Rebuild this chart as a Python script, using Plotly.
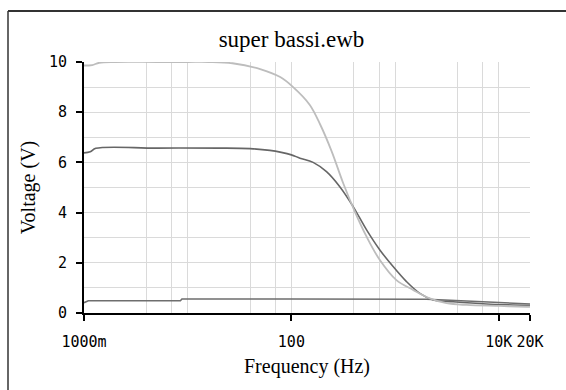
import plotly.graph_objects as go

# Frequency response read from the AC analysis (Hz -> V)
freq_out = [1, 1.2, 1.4, 2, 5, 10, 16, 27, 50, 78, 104, 150, 190, 244, 316, 409,
            531, 713, 1030, 1490, 2160, 3130, 4890, 10200, 18500, 20000]
volt_out = [9.86, 9.88, 9.97, 10.0, 10.0, 10.0, 10.0, 9.95, 9.72, 9.4, 9.0, 8.3, 7.5,
            6.45, 5.17, 4.04, 3.04, 2.11, 1.31, 0.92, 0.58, 0.39, 0.32, 0.28, 0.25, 0.25]

freq_mid = [1, 1.15, 1.3, 5, 20, 40, 62, 80, 100, 121, 162, 218, 293, 394, 531, 713,
            957, 1288, 1733, 2328, 3630, 7600, 13740, 20000]
volt_mid = [6.38, 6.42, 6.56, 6.57, 6.57, 6.55, 6.48, 6.4, 6.3, 6.17, 6.0, 5.63, 5.03,
            4.24, 3.31, 2.51, 1.85, 1.25, 0.78, 0.52, 0.45, 0.36, 0.32, 0.3]

freq_low = [1, 1.1, 8.5, 8.8, 100, 1000, 2000, 3000, 5000, 10000, 20000]
volt_low = [0.41, 0.49, 0.49, 0.56, 0.56, 0.56, 0.55, 0.52, 0.47, 0.41, 0.36]

x_tick_vals = [1, 100, 10000, 20000]
x_tick_text = ["1000m", "100", "10K", "20K"]
x_grid_vals = [4, 7, 10, 40, 70, 400, 700, 1000, 4000, 7000]
y_tick_vals = [0, 2, 4, 6, 8, 10]
y_grid_vals = [1, 3, 5, 7, 9]

fig = go.Figure()
fig.add_trace(go.Scatter(x=freq_low, y=volt_low, mode="lines",
                         line=dict(color="#6e6e6e", width=1.6), showlegend=False))
fig.add_trace(go.Scatter(x=freq_mid, y=volt_mid, mode="lines", line_shape="spline",
                         line=dict(color="#666666", width=1.6), showlegend=False))
fig.add_trace(go.Scatter(x=freq_out, y=volt_out, mode="lines", line_shape="spline",
                         line=dict(color="#bdbdbd", width=1.8), showlegend=False))

grid_color = "#dadada"
fig.update_xaxes(
    type="log", range=[0, 4.30103],
    tickmode="array", tickvals=x_tick_vals, ticktext=x_tick_text,
    ticks="outside", ticklen=6, tickwidth=1.5, tickcolor="black",
    showline=True, linecolor="black", linewidth=2,
    showgrid=True, gridcolor=grid_color, gridwidth=1,
    minor=dict(tickvals=x_grid_vals, showgrid=True, gridcolor=grid_color, ticklen=0),
    tickfont=dict(family="DejaVu Sans Mono", size=15, color="black"),
    ticklabelstandoff=8,
    title=dict(text="Frequency (Hz)", font=dict(family="Liberation Serif", size=20, color="black"),
               standoff=9),
    zeroline=False,
)
fig.update_yaxes(
    range=[0, 10],
    tickmode="array", tickvals=y_tick_vals,
    ticks="outside", ticklen=6, tickwidth=1.5, tickcolor="black",
    showline=True, linecolor="black", linewidth=2,
    showgrid=True, gridcolor=grid_color, gridwidth=1,
    minor=dict(tickvals=y_grid_vals, showgrid=True, gridcolor=grid_color, ticklen=0),
    tickfont=dict(family="DejaVu Sans Mono", size=15, color="black"),
    ticklabelstandoff=6,
    title=dict(text="Voltage (V)", font=dict(family="Liberation Serif", size=20, color="black"),
               standoff=8),
    zeroline=False,
)

# page frame lines (left and top)
fig.add_shape(type="line", xref="paper", yref="paper", x0=-0.1704, x1=-0.1704, y0=1.2032, y1=-0.31,
              line=dict(color="#333333", width=1.5))
fig.add_shape(type="line", xref="paper", yref="paper", x0=-0.1704, x1=1.09, y0=1.2032, y1=1.2032,
              line=dict(color="#333333", width=2))

fig.update_layout(
    width=566, height=390,
    margin=dict(l=84, r=36, t=62, b=77),
    paper_bgcolor="white", plot_bgcolor="white",
    title=dict(text="super bassi.ewb", x=0.515, xanchor="center", y=0.9, yanchor="middle",
               yref="container", font=dict(family="Liberation Serif", size=23, color="black")),
)

fig.write_html("out.html")
